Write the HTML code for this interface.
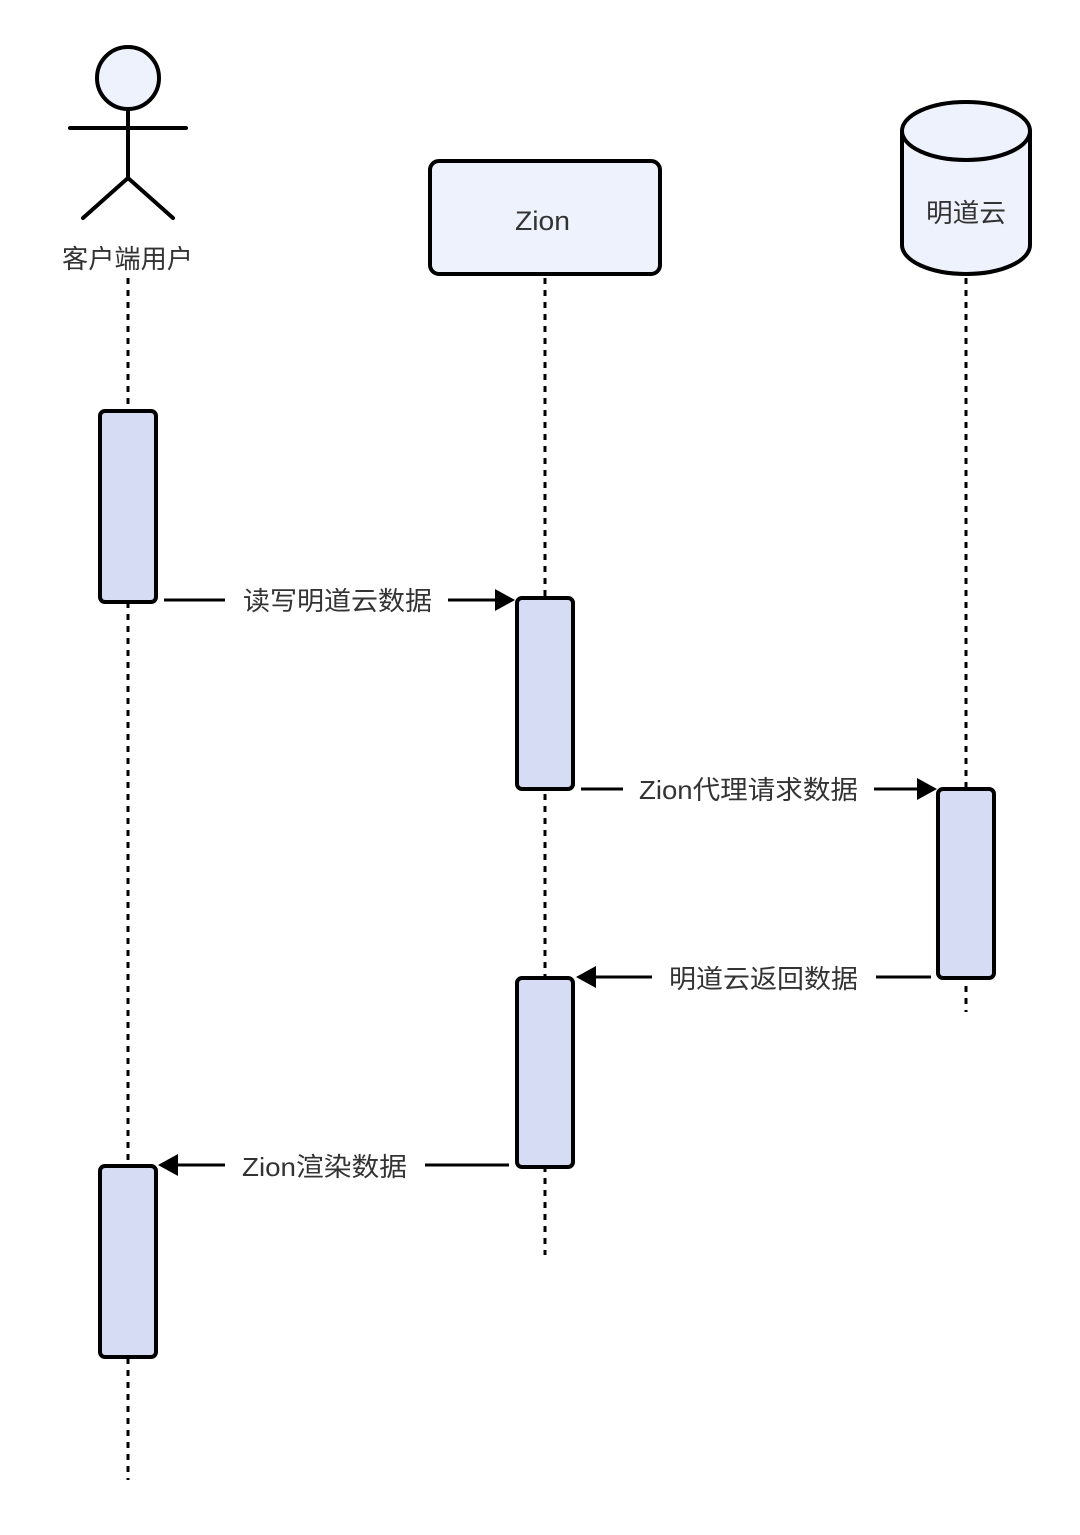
<!DOCTYPE html>
<html><head><meta charset="utf-8"><style>
html,body{margin:0;padding:0;background:#fff;}
svg{display:block;}
text{font-family:"Liberation Sans","Noto Sans CJK SC",sans-serif;fill:#333;}
</style></head><body>
<svg width="1080" height="1535" viewBox="0 0 1080 1535" xmlns="http://www.w3.org/2000/svg">
<g stroke="#000" stroke-width="3" stroke-dasharray="6 6" fill="none">
<line x1="128" y1="278" x2="128" y2="1480"/>
<line x1="545" y1="278" x2="545" y2="1255"/>
<line x1="966" y1="278" x2="966" y2="1012"/>
</g>
<g stroke="#000" stroke-width="4" fill="none" stroke-linecap="round">
<circle cx="128" cy="78" r="31" fill="#eef2fc"/>
<line x1="70" y1="128" x2="186" y2="128"/>
<line x1="128" y1="109" x2="128" y2="178"/>
<line x1="128" y1="178" x2="83" y2="218"/>
<line x1="128" y1="178" x2="173" y2="218"/>
</g>
<text x="62" y="268" font-size="26" textLength="131" lengthAdjust="spacingAndGlyphs">客户端用户</text>
<rect x="430" y="161" width="230" height="113" rx="9" fill="#eef2fc" stroke="#000" stroke-width="4"/>
<text x="515" y="230" font-size="27" textLength="55" lengthAdjust="spacingAndGlyphs">Zion</text>
<path d="M902 131 L902 245 A64 29 0 0 0 1030 245 L1030 131" fill="#eef2fc" stroke="#000" stroke-width="4"/>
<ellipse cx="966" cy="131" rx="64" ry="29" fill="#eef2fc" stroke="#000" stroke-width="4"/>
<text x="926" y="222" font-size="26" textLength="80" lengthAdjust="spacingAndGlyphs">明道云</text>
<g fill="#d5dcf4" stroke="#000" stroke-width="4">
<rect x="100" y="411" width="56" height="191" rx="5"/>
<rect x="517" y="598" width="56" height="191" rx="5"/>
<rect x="938" y="789" width="56" height="189" rx="5"/>
<rect x="517" y="978" width="56" height="189" rx="5"/>
<rect x="100" y="1166" width="56" height="191" rx="5"/>
</g>
<g stroke="#000" stroke-width="3">
<line x1="164" y1="600" x2="225" y2="600"/>
<line x1="448" y1="600" x2="498" y2="600"/>
<line x1="581" y1="789" x2="623" y2="789"/>
<line x1="874" y1="789" x2="920" y2="789"/>
<line x1="594" y1="977" x2="652" y2="977"/>
<line x1="876" y1="977" x2="931" y2="977"/>
<line x1="176" y1="1165" x2="225" y2="1165"/>
<line x1="425" y1="1165" x2="509" y2="1165"/>
</g>
<g fill="#000">
<polygon points="515,600 495,589 495,611"/>
<polygon points="937,789 917,778 917,800"/>
<polygon points="576,977 596,966 596,988"/>
<polygon points="158,1165 178,1154 178,1176"/>
</g>
<g font-size="26">
<text x="243" y="610" textLength="189" lengthAdjust="spacingAndGlyphs">读写明道云数据</text>
<text x="639" y="799" textLength="219" lengthAdjust="spacingAndGlyphs">Zion代理请求数据</text>
<text x="669" y="988" textLength="189" lengthAdjust="spacingAndGlyphs">明道云返回数据</text>
<text x="242" y="1176" textLength="165" lengthAdjust="spacingAndGlyphs">Zion渲染数据</text>
</g>
</svg>
</body></html>
